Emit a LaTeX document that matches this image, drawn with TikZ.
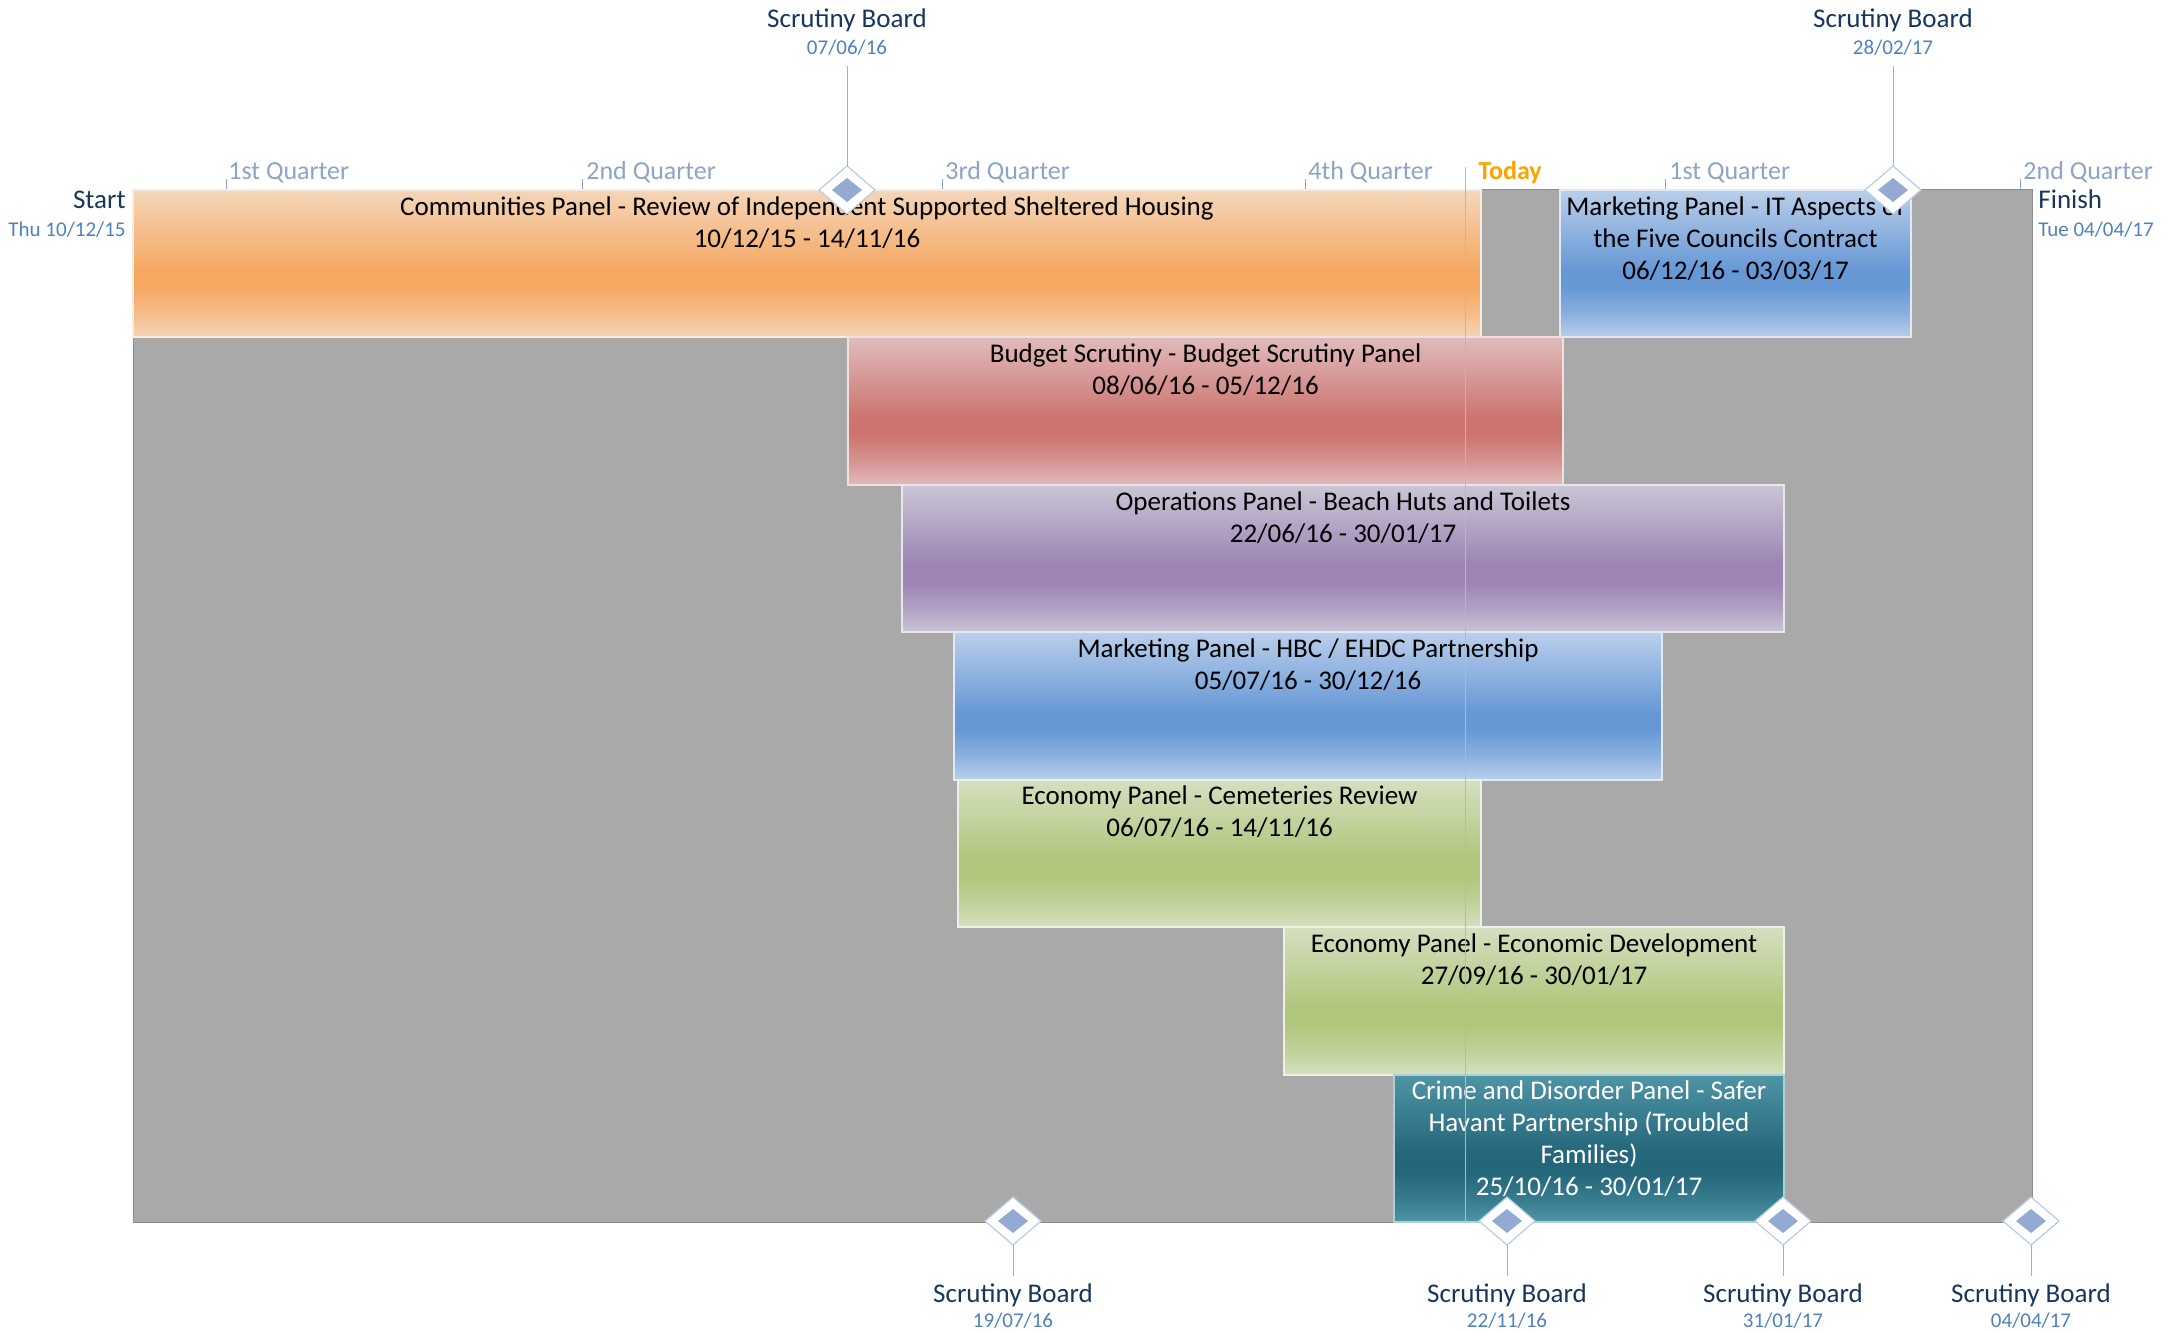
\documentclass[tikz,border=0pt]{standalone}
\usepackage{fontspec}
\setmainfont{Carlito}
\usetikzlibrary{positioning,shapes.geometric}

\definecolor{navy}{HTML}{17365D}
\definecolor{dateblue}{HTML}{4F81BD}
\definecolor{qtrblue}{HTML}{8EA4C4}
\definecolor{todayorange}{HTML}{FFA200}
\definecolor{bggray}{HTML}{A9A9A9}
\definecolor{bgedge}{HTML}{8C8C8C}
\definecolor{mslinec}{HTML}{95B3D7}
\definecolor{msfill}{HTML}{93AAD2}
\definecolor{msedge}{HTML}{B8CCE4}
\definecolor{orlo}{HTML}{F4D6BA}\definecolor{orhi}{HTML}{F6A863}
\definecolor{rdlo}{HTML}{E0BBBB}\definecolor{rdhi}{HTML}{CC7570}
\definecolor{pulo}{HTML}{CBC5D5}\definecolor{puhi}{HTML}{9C84B5}
\definecolor{bllo}{HTML}{BACFEA}\definecolor{blhi}{HTML}{6798D6}
\definecolor{grlo}{HTML}{D5DFC0}\definecolor{grhi}{HTML}{B0C67C}
\definecolor{tllo}{HTML}{4E95A5}\definecolor{tlhi}{HTML}{24667A}

\colorlet{barlo}{white}\colorlet{barhi}{gray}
\pgfdeclareverticalshading[barlo,barhi]{panelshade}{100bp}{color(0bp)=(barlo);
  color(25bp)=(barlo); color(33bp)=(barlo!45!barhi); color(42bp)=(barhi);
  color(48bp)=(barhi); color(75bp)=(barlo); color(100bp)=(barlo)}

\tikzset{
  panel/.style={/utils/exec={\colorlet{barlo}{#1lo}\colorlet{barhi}{#1hi}},
    shade, shading=panelshade, draw=#1lo!45!white, line width=1pt,
    anchor=north west, minimum height=73.7pt, inner sep=0pt, outer sep=0pt},
  paneltext/.style={align=center, inner sep=0pt, font=\fontsize{13.5}{16}\selectfont},
  mstitle/.style={text=navy, inner sep=0pt, font=\fontsize{13.5}{16}\selectfont},
  msdate/.style={text=dateblue, inner sep=0pt, font=\fontsize{10.5}{12}\selectfont},
  qlabel/.style={text=qtrblue, inner sep=0pt, anchor=base west, font=\fontsize{13}{15}\selectfont},
  qtick/.style={draw=qtrblue, line width=0.5pt},
  milestone/.style={shape=diamond, draw=msedge, fill=white, line width=0.6pt,
    minimum width=28pt, minimum height=24pt, inner sep=0pt, outer sep=0pt,
    path picture={\fill[msfill] ([xshift=-7.5pt]path picture bounding box.center)
      -- ++(7.5pt,6pt) -- ++(7.5pt,-6pt) -- ++(-7.5pt,-6pt) -- cycle;}},
  topstem/.style={draw=mslinec, line width=0.5pt, shorten >=5pt},
  botstem/.style={draw=mslinec, line width=0.5pt, shorten >=3.5pt}
}

\begin{document}
\begin{tikzpicture}[x=0.5pt,y=-0.5pt]
  \useasboundingbox (0,0) rectangle (2167,1332);
  % chart area
  \node [fill=bggray, draw=bgedge, line width=0.5pt, anchor=north west, inner sep=0pt,
    outer sep=0pt, minimum width=949.5pt, minimum height=516pt] (area) at (133,190) {};
  % quarters
  \foreach \x in {226,582,942,1305,1665,2020}
    \draw [qtick] (\x,179) -- (\x,189);
  \node [qlabel] (q1) at (228,180) {1st Quarter};
  \node [qlabel] (q2) at (586,180) {2nd Quarter};
  \node [qlabel] (q3) at (945,180) {3rd Quarter};
  \node [qlabel] (q4) at (1308,180) {4th Quarter};
  \node [qlabel] (q5) at (1669,180) {1st Quarter};
  \node [qlabel] (q6) at (2023,180) {2nd Quarter};
  \node [mstitle, anchor=base east] (start) at (126,209) {Start};
  \node [msdate, anchor=base east] (startd) at (126,237) {Thu 10/12/15};
  \node [mstitle, anchor=base west] (finish) at (2038,209) {Finish};
  \node [msdate, anchor=base west] (finishd) at (2038,237) {Tue 04/04/17};
  \node [text=todayorange, inner sep=0pt, anchor=base west,
    font=\fontsize{13}{15}\selectfont\bfseries] (today) at (1478,180) {Today};
  % panels
  \node [panel=or, minimum width=674pt] (comm) at (133,190) {};
  \node [paneltext, below=3pt of comm.north] (commtxt)
    {Communities Panel - Review of Independent Supported Sheltered Housing\\10/12/15 - 14/11/16};
  \node [panel=bl, minimum width=175.5pt] (itc) at (1560,190) {};
  \node [paneltext, below=3pt of itc.north] (itctxt)
    {Marketing Panel - IT Aspects of\\the Five Councils Contract\\06/12/16 - 03/03/17};
  \node [panel=rd, minimum width=357.5pt] (budget) at (848,337.4) {};
  \node [paneltext, below=3pt of budget.north] (budgettxt)
    {Budget Scrutiny - Budget Scrutiny Panel\\08/06/16 - 05/12/16};
  \node [panel=pu, minimum width=441pt] (ops) at (902,484.9) {};
  \node [paneltext, below=3pt of ops.north] (opstxt)
    {Operations Panel - Beach Huts and Toilets\\22/06/16 - 30/01/17};
  \node [panel=bl, minimum width=354pt] (hbc) at (954,632.3) {};
  \node [paneltext, below=3pt of hbc.north] (hbctxt)
    {Marketing Panel - HBC / EHDC Partnership\\05/07/16 - 30/12/16};
  \node [panel=gr, minimum width=261.5pt] (cem) at (958,779.7) {};
  \node [paneltext, below=3pt of cem.north] (cemtxt)
    {Economy Panel - Cemeteries Review\\06/07/16 - 14/11/16};
  \node [panel=gr, minimum width=250pt] (ecdev) at (1284,927.1) {};
  \node [paneltext, below=3pt of ecdev.north] (ecdevtxt)
    {Economy Panel - Economic Development\\27/09/16 - 30/01/17};
  \node [panel=tl, minimum width=195pt] (crime) at (1394,1074.6) {};
  \node [paneltext, text=white, below=3pt of crime.north] (crimetxt)
    {Crime and Disorder Panel - Safer\\Havant Partnership (Troubled\\Families)\\25/10/16 - 30/01/17};
  % today
  \draw [todayorange!85!white, line width=0.4pt] (1465,167) -- (1465,1222);
  % milestones
  \node [mstitle, anchor=base] (sb1t) at (847,28) {Scrutiny Board};
  \node [msdate, anchor=base] (sb1d) at (847,55) {07/06/16};
  \node [milestone] (sb1) at (847,190) {} edge [topstem] (sb1d);
  \node [mstitle, anchor=base] (sb2t) at (1893,28) {Scrutiny Board};
  \node [msdate, anchor=base] (sb2d) at (1893,55) {28/02/17};
  \node [milestone] (sb2) at (1893,190) {} edge [topstem] (sb2d);
  \node [mstitle, anchor=base] (sb3t) at (1013,1302) {Scrutiny Board};
  \node [msdate, anchor=base] (sb3d) at (1013,1327) {19/07/16};
  \node [milestone] (sb3) at (1013,1221) {} edge [botstem] (sb3t);
  \node [mstitle, anchor=base] (sb4t) at (1507,1302) {Scrutiny Board};
  \node [msdate, anchor=base] (sb4d) at (1507,1327) {22/11/16};
  \node [milestone] (sb4) at (1507,1221) {} edge [botstem] (sb4t);
  \node [mstitle, anchor=base] (sb5t) at (1783,1302) {Scrutiny Board};
  \node [msdate, anchor=base] (sb5d) at (1783,1327) {31/01/17};
  \node [milestone] (sb5) at (1783,1221) {} edge [botstem] (sb5t);
  \node [mstitle, anchor=base] (sb6t) at (2031,1302) {Scrutiny Board};
  \node [msdate, anchor=base] (sb6d) at (2031,1327) {04/04/17};
  \node [milestone] (sb6) at (2031,1221) {} edge [botstem] (sb6t);
\end{tikzpicture}
\end{document}
